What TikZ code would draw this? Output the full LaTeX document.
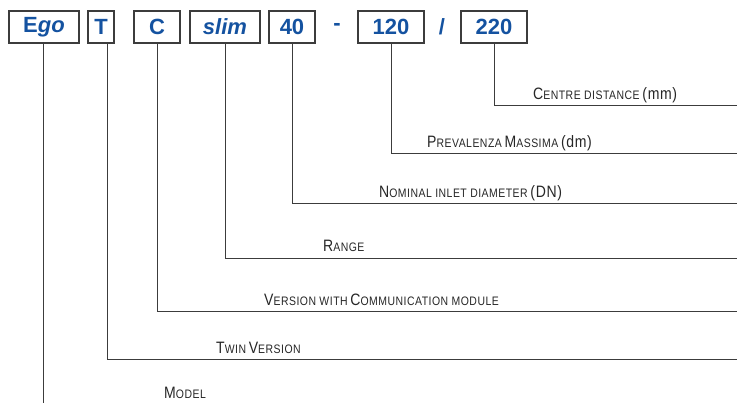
\documentclass[tikz,border=0pt]{standalone}
\usepackage{fontspec}
\usepackage{xcolor}
\usepackage{tikz}
\usetikzlibrary{positioning, calc}
\setmainfont{Liberation Sans}
\newfontfamily\narrowsf[FakeStretch=0.85, LetterSpace=4]{Liberation Sans}
\definecolor{codeblue}{RGB}{20,82,160}
\definecolor{linegray}{RGB}{60,60,60}
\newcommand{\capbig}{\fontsize{16.5}{17}\selectfont}
\newcommand{\capsmall}{\fontsize{12.3}{17}\selectfont}
\tikzset{
  codebox/.style={rectangle, draw=linegray, line width=1.1pt, minimum height=32,
    inner sep=0pt, text=codeblue, font=\fontsize{22}{22}\selectfont\bfseries},
  sepsign/.style={text=codeblue, font=\fontsize{22}{22}\selectfont\bfseries, inner sep=0pt},
  leader/.style={draw=linegray, line width=1pt},
  legend/.style={anchor=base west, inner sep=0pt, font=\narrowsf, text=black!85},
}

\begin{document}
\begin{tikzpicture}[x=1pt, y=-1pt]
  \useasboundingbox (0,0) rectangle (737,403);

  % code boxes
  \node[codebox, minimum width=70] (ego)  at (44,27)  {E\itshape go};
  \node[codebox, minimum width=26] (twin) at (101,27) {T};
  \node[codebox, minimum width=46] (comm) at (157,27) {C};
  \node[codebox, minimum width=70] (slim) at (225,27) {\itshape slim};
  \node[codebox, minimum width=46] (dn)   at (292,27) {40};
  \node[sepsign] (dash)  at (337,27) {-};
  \node[codebox, minimum width=66] (head) at (391,27) {120};
  \node[sepsign] (slash) at (442,27) {/};
  \node[codebox, minimum width=66] (dist) at (494,27) {220};

  % free ends on the right border
  \coordinate (distend) at (737,106);
  \coordinate (headend) at (737,154);
  \coordinate (dnend)   at (737,204);
  \coordinate (slimend) at (737,259);
  \coordinate (commend) at (737,312);
  \coordinate (twinend) at (737,360);
  \coordinate (egoend)  at (43,403);

  \draw[leader] (dist.south) |- (distend);
  \draw[leader] (head.south) |- (headend);
  \draw[leader] (dn.south)   |- (dnend);
  \draw[leader] (slim.south) |- (slimend);
  \draw[leader] (comm.south) |- (commend);
  \draw[leader] ([xshift=6]twin.south) |- (twinend);
  \draw[leader] ([xshift=-1]ego.south) -- (egoend);

  % legends
  \node[legend] (distlbl) at (533,100) {{\capbig C}{\capsmall ENTRE DISTANCE} {\capbig (mm)}};
  \node[legend] (headlbl) at (427,148) {{\capbig P}{\capsmall REVALENZA} {\capbig M}{\capsmall ASSIMA} {\capbig (dm)}};
  \node[legend] (dnlbl)   at (379,198) {{\capbig N}{\capsmall OMINAL INLET DIAMETER} {\capbig (DN)}};
  \node[legend] (slimlbl) at (323,252) {{\capbig R}{\capsmall ANGE}};
  \node[legend] (commlbl) at (264,306) {{\capbig V}{\capsmall ERSION WITH} {\capbig C}{\capsmall OMMUNICATION MODULE}};
  \node[legend] (twinlbl) at (216,354) {{\capbig T}{\capsmall WIN} {\capbig V}{\capsmall ERSION}};
  \node[legend] (egolbl)  at (164,399) {{\capbig M}{\capsmall ODEL}};
\end{tikzpicture}
\end{document}
